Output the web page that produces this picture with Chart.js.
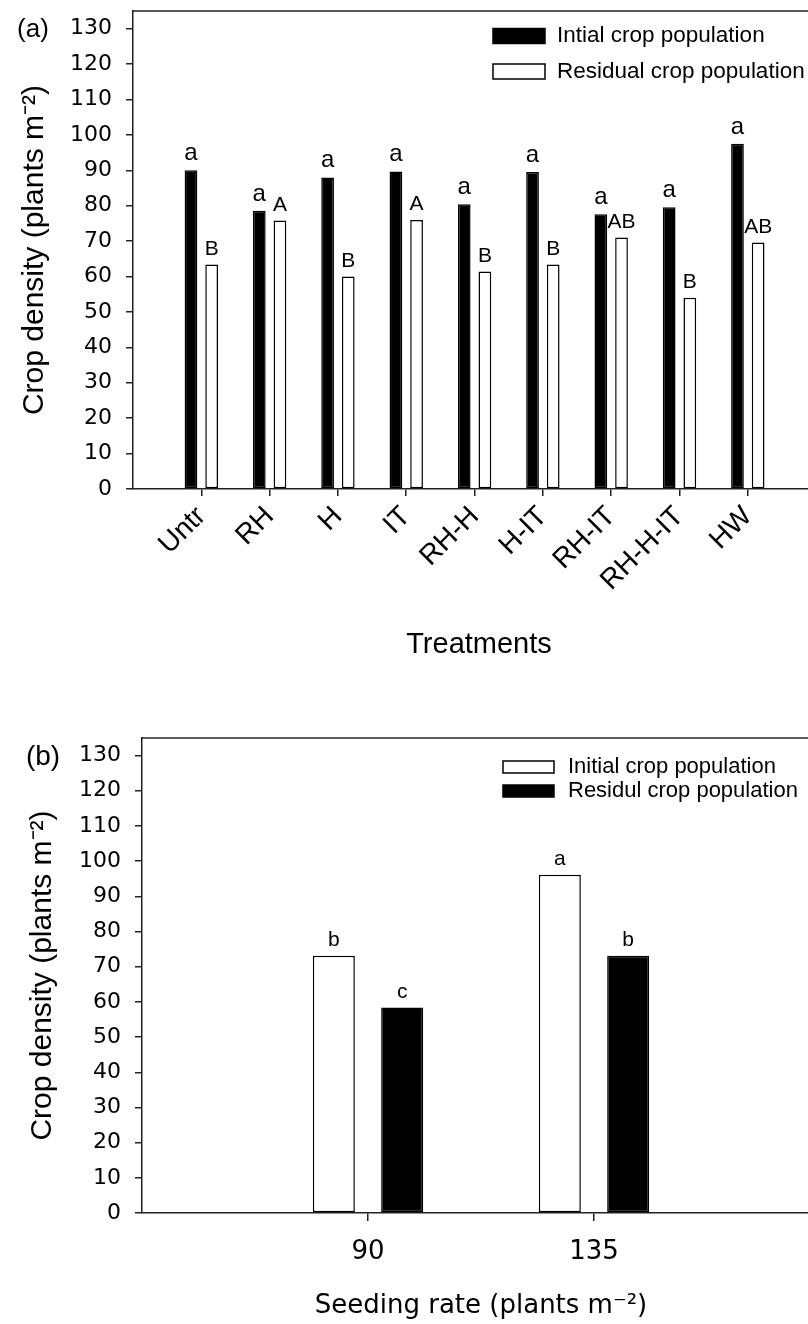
<!DOCTYPE html>
<html>
<head>
<meta charset="utf-8">
<title>Crop density</title>
<script src="https://cdn.jsdelivr.net/npm/chart.js@4.4.0/dist/chart.umd.min.js"></script>
<style>
  html, body { margin: 0; padding: 0; background: #fff; }
  body { width: 808px; overflow: hidden; }
  .panel { position: relative; width: 808px; overflow: hidden; }
  #panelA { height: 680px; }
  #panelB { height: 644px; }
  canvas { display: block; }
</style>
</head>
<body>
<div class="panel" id="panelA"><canvas id="chartA" width="825" height="680"></canvas></div>
<div class="panel" id="panelB"><canvas id="chartB" width="820" height="644"></canvas></div>
<script>
// (a) treatments
const treatments = ["Untr", "RH", "H", "IT", "RH-H", "H-IT", "RH-IT", "RH-H-IT", "HW"];
const initialPop = [90.0, 78.6, 88.0, 89.7, 80.4, 89.5, 77.6, 79.6, 97.5];
const residualPop = [63.4, 75.8, 60.0, 76.0, 61.4, 63.4, 71.0, 54.0, 69.6];
const initialLetters = ["a", "a", "a", "a", "a", "a", "a", "a", "a"];
const residualLetters = ["B", "A", "B", "A", "B", "B", "AB", "B", "AB"];

// (b) seeding rate
const seedingRates = ["90", "135"];
const initialPopB = [73.1, 96.1];
const residualPopB = [58.4, 73.1];
const initialLettersB = ["b", "a"];
const residualLettersB = ["c", "b"];

const AXIS = "#222";
const FONT = "'Liberation Sans', Arial, sans-serif";
const WIDE = "'DejaVu Sans', 'Liberation Sans', sans-serif";
Chart.defaults.font.family = FONT;
Chart.defaults.color = "#000";

// bars sit on a linear x axis at 1..n so the plot keeps its empty margins
function points(values) {
  return values.map((v, i) => ({ x: i + 1, y: v }));
}

// top frame line, letters over bars, panel tag and the in-plot legend
function extras(opts) {
  return {
    id: "extras",
    afterDatasetsDraw(chart) {
      const ctx = chart.ctx;
      const area = chart.chartArea;
      ctx.save();
      ctx.strokeStyle = AXIS;
      ctx.lineWidth = 1.5;
      ctx.beginPath();
      ctx.moveTo(area.left, area.top);
      ctx.lineTo(area.right, area.top);
      ctx.stroke();

      ctx.fillStyle = "#000";
      ctx.textAlign = "center";
      ctx.textBaseline = "alphabetic";
      opts.letters.forEach((set, d) => {
        ctx.font = set.size + "px " + FONT;
        chart.getDatasetMeta(d).data.forEach((bar, i) => {
          ctx.fillText(set.text[i], bar.x, bar.y - opts.letterGap);
        });
      });

      ctx.textBaseline = "middle";
      ctx.font = opts.tagSize + "px " + FONT;
      ctx.fillText(opts.tag, opts.tagX, opts.tagY);

      ctx.textAlign = "left";
      ctx.font = opts.legendSize + "px " + FONT;
      chart.data.datasets.forEach((ds, d) => {
        const cy = opts.legendY + d * opts.legendGap;
        const x = opts.legendX;
        ctx.fillStyle = ds.backgroundColor;
        ctx.fillRect(x, cy - opts.swatchH / 2, opts.swatchW, opts.swatchH);
        ctx.lineWidth = 1.5;
        ctx.strokeStyle = "#000";
        ctx.strokeRect(x, cy - opts.swatchH / 2, opts.swatchW, opts.swatchH);
        ctx.fillStyle = "#000";
        ctx.fillText(ds.label, x + opts.swatchW + opts.legendTextGap, cy);
      });
      ctx.restore();
    }
  };
}

function barSet(label, values, fill) {
  return {
    label: label,
    data: points(values),
    backgroundColor: fill,
    borderColor: "#000",
    borderWidth: 1.5,
    borderSkipped: false,
    categoryPercentage: 0.605,
    barPercentage: 0.615
  };
}

function yAxis(width, titlePad, tickFont) {
  return {
    min: 0,
    max: 135,
    afterFit: s => {
      s.width = width;
      s.paddingTop = 0;
      s.paddingBottom = 0;
    },
    ticks: { stepSize: 10, includeBounds: false, padding: 14, font: tickFont, color: "#000" },
    grid: { drawOnChartArea: false, tickLength: 7, color: AXIS, lineWidth: 1.5 },
    border: { display: true, color: AXIS, width: 1.5 },
    title: {
      display: true,
      text: "Crop density (plants m\u207B\u00B2)",
      font: { size: 30 },
      color: "#000",
      padding: { top: titlePad, bottom: 0 }
    }
  };
}

function xAxis(labels, max, height, tickLength, ticks, title) {
  return {
    type: "linear",
    min: 0,
    max: max,
    offset: false,
    afterBuildTicks: s => { s.ticks = labels.map((t, i) => ({ value: i + 1 })); },
    afterFit: s => {
      s.height = height;
      s.paddingLeft = 0;
      s.paddingRight = 0;
    },
    ticks: Object.assign({ autoSkip: false, color: "#000", callback: v => labels[v - 1] }, ticks),
    grid: { offset: false, drawOnChartArea: false, tickLength: tickLength, color: AXIS, lineWidth: 1.5 },
    border: { display: true, color: AXIS, width: 1.5 },
    title: title
  };
}

new Chart(document.getElementById("chartA"), {
  type: "bar",
  data: {
    datasets: [
      barSet("Intial crop population", initialPop, "#000"),
      barSet("Residual crop population", residualPop, "#fff")
    ]
  },
  options: {
    responsive: false,
    animation: false,
    layout: { padding: { top: 11, left: 0, right: 0, bottom: 0 } },
    plugins: { legend: { display: false }, tooltip: { enabled: false } },
    scales: {
      x: xAxis(treatments, 10.13, 191, 7,
        { minRotation: 45, maxRotation: 45, padding: 4, font: { size: 28 } },
        { display: true, text: "Treatments", font: { size: 29 }, color: "#000", padding: { top: 0, bottom: 18 } }),
      y: yAxis(133, 17, { size: 22, family: WIDE })
    }
  },
  plugins: [extras({
    letters: [{ text: initialLetters, size: 24 }, { text: residualLetters, size: 21 }],
    letterGap: 10,
    tag: "(a)", tagSize: 26, tagX: 33, tagY: 30,
    legendX: 493, legendY: 36, legendGap: 35.5,
    swatchW: 52, swatchH: 15, legendTextGap: 12, legendSize: 22.5
  })]
});

new Chart(document.getElementById("chartB"), {
  type: "bar",
  data: {
    datasets: [
      barSet("Initial crop population", initialPopB, "#fff"),
      barSet("Residul crop population", residualPopB, "#000")
    ]
  },
  options: {
    responsive: false,
    animation: false,
    layout: { padding: { top: 58, left: 0, right: 0, bottom: 0 } },
    plugins: { legend: { display: false }, tooltip: { enabled: false } },
    scales: {
      x: xAxis(seedingRates, 3, 111, 8,
        { maxRotation: 0, padding: 16, font: { size: 26, family: WIDE } },
        { display: true, text: "Seeding rate (plants m\u207B\u00B2)", font: { size: 26, family: WIDE }, color: "#000", padding: { top: 0, bottom: 2 } }),
      y: yAxis(142, 25, { size: 22, family: WIDE })
    }
  },
  plugins: [extras({
    letters: [{ text: initialLettersB, size: 21 }, { text: residualLettersB, size: 21 }],
    letterGap: 10,
    tag: "(b)", tagSize: 28, tagX: 43, tagY: 77,
    legendX: 503, legendY: 87, legendGap: 24,
    swatchW: 51, swatchH: 12, legendTextGap: 14, legendSize: 22
  })]
});
</script>
</body>
</html>
